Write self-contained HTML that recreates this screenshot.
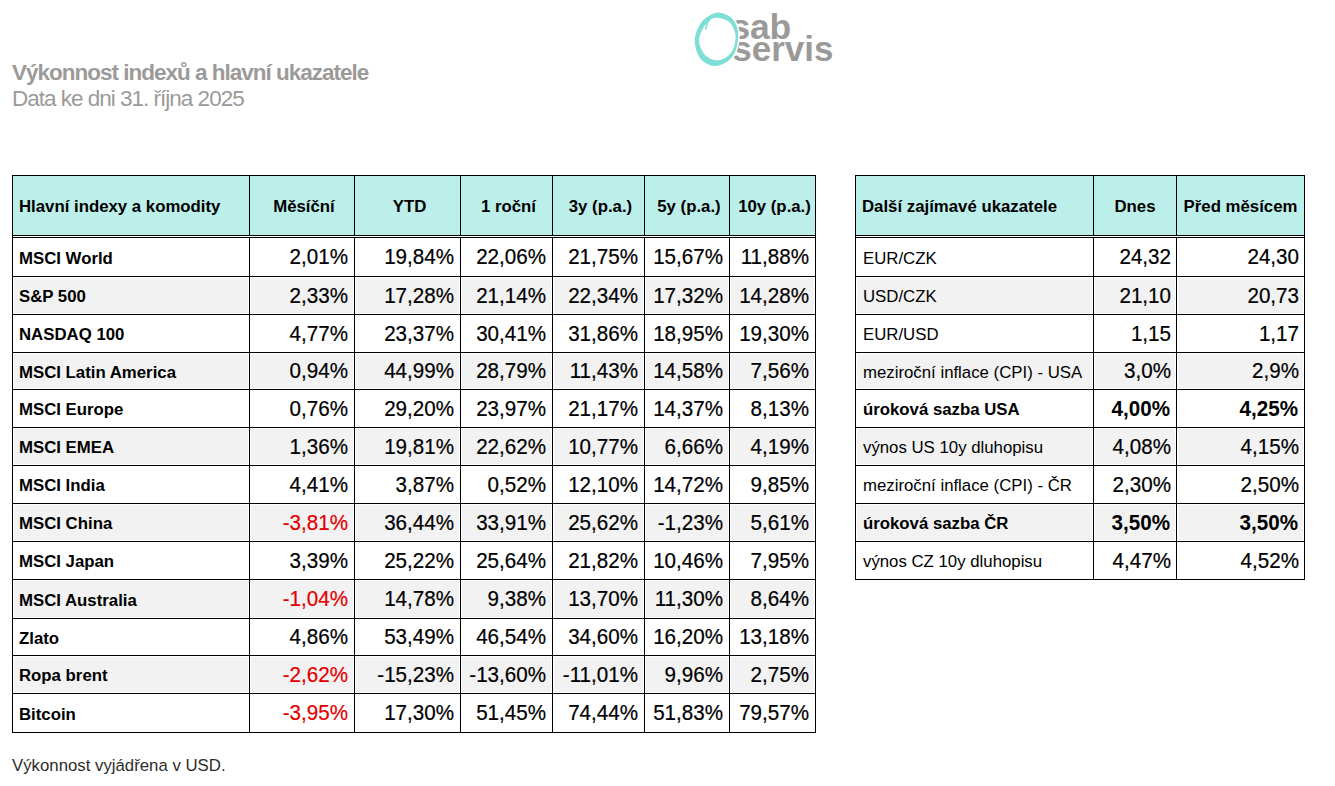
<!DOCTYPE html>
<html><head><meta charset="utf-8"><title>Výkonnost indexů</title>
<style>
html,body{margin:0;padding:0;background:#fff;}
body{width:1335px;height:786px;position:relative;overflow:hidden;font-family:"Liberation Sans",sans-serif;color:#000;}
body div{position:absolute;}
.t{white-space:nowrap;}
</style></head><body>
<div class="t" style="left:12px;top:57.70px;line-height:30px;font-size:22.5px;font-weight:bold;letter-spacing:-1px;color:#9c9a98;">Výkonnost indexů a hlavní ukazatele</div>
<div class="t" style="left:12px;top:84.20px;line-height:30px;font-size:22.5px;letter-spacing:-1px;color:#9c9a98;">Data ke dni 31. října 2025</div>
<svg style="position:absolute;left:680px;top:0px" width="170" height="80" viewBox="680 0 170 80">
<g font-family="Liberation Sans" font-weight="bold" font-size="36" fill="#9b9a98">
<text x="730.5" y="39" font-size="35.5" letter-spacing="-0.2">sab</text>
<text x="732.3" y="60.7" font-size="35" letter-spacing="0">servis</text>
</g>
<path d="M720.00 12.70 C723.42 13.10 728.17 15.12 731.00 17.50 C733.83 19.88 735.82 23.58 737.00 27.00 C738.18 30.42 738.43 33.80 738.10 38.00 C737.77 42.20 736.83 48.25 735.00 52.20 C733.17 56.15 730.65 59.40 727.10 61.70 C723.55 64.00 718.17 66.53 713.70 66.00 C709.23 65.47 703.47 62.65 700.30 58.50 C697.13 54.35 694.70 46.88 694.70 41.10 C694.70 35.32 697.67 28.13 700.30 23.80 C702.93 19.47 707.22 16.95 710.50 15.10 C713.78 13.25 716.58 12.30 720.00 12.70Z" fill="#fff" stroke="#fff" stroke-width="3.2"/>
<path d="M720.00 12.70 C723.42 13.10 728.17 15.12 731.00 17.50 C733.83 19.88 735.82 23.58 737.00 27.00 C738.18 30.42 738.43 33.80 738.10 38.00 C737.77 42.20 736.83 48.25 735.00 52.20 C733.17 56.15 730.65 59.40 727.10 61.70 C723.55 64.00 718.17 66.53 713.70 66.00 C709.23 65.47 703.47 62.65 700.30 58.50 C697.13 54.35 694.70 46.88 694.70 41.10 C694.70 35.32 697.67 28.13 700.30 23.80 C702.93 19.47 707.22 16.95 710.50 15.10 C713.78 13.25 716.58 12.30 720.00 12.70Z M711.30 19.00 C708.67 20.63 705.43 24.02 703.40 27.70 C701.37 31.38 698.83 36.55 699.10 41.10 C699.37 45.65 702.18 51.80 705.00 55.00 C707.82 58.20 712.50 59.88 716.00 60.30 C719.50 60.72 723.17 59.28 726.00 57.50 C728.83 55.72 731.40 52.85 733.00 49.60 C734.60 46.35 735.47 41.43 735.60 38.00 C735.73 34.57 734.95 31.77 733.80 29.00 C732.65 26.23 731.13 23.25 728.70 21.40 C726.27 19.55 722.10 18.30 719.20 17.90 C716.30 17.50 713.93 17.37 711.30 19.00Z" fill="#7edfd6" fill-rule="evenodd"/>
<path d="M709.5 19.5 L707.6 22.6 L705.6 29" fill="none" stroke="#7edfd6" stroke-width="1.6" stroke-linecap="round"/>
</svg>
<div style="left:12px;top:175px;width:804px;height:60px;background:#bdefea;"></div>
<div style="left:14px;top:278px;width:234px;height:35px;background:#f2f2f2;"></div>
<div style="left:251px;top:278px;width:102px;height:35px;background:#f2f2f2;"></div>
<div style="left:356px;top:278px;width:103px;height:35px;background:#f2f2f2;"></div>
<div style="left:462px;top:278px;width:89px;height:35px;background:#f2f2f2;"></div>
<div style="left:554px;top:278px;width:89px;height:35px;background:#f2f2f2;"></div>
<div style="left:646px;top:278px;width:82px;height:35px;background:#f2f2f2;"></div>
<div style="left:731px;top:278px;width:83px;height:35px;background:#f2f2f2;"></div>
<div style="left:14px;top:354px;width:234px;height:34px;background:#f2f2f2;"></div>
<div style="left:251px;top:354px;width:102px;height:34px;background:#f2f2f2;"></div>
<div style="left:356px;top:354px;width:103px;height:34px;background:#f2f2f2;"></div>
<div style="left:462px;top:354px;width:89px;height:34px;background:#f2f2f2;"></div>
<div style="left:554px;top:354px;width:89px;height:34px;background:#f2f2f2;"></div>
<div style="left:646px;top:354px;width:82px;height:34px;background:#f2f2f2;"></div>
<div style="left:731px;top:354px;width:83px;height:34px;background:#f2f2f2;"></div>
<div style="left:14px;top:429px;width:234px;height:35px;background:#f2f2f2;"></div>
<div style="left:251px;top:429px;width:102px;height:35px;background:#f2f2f2;"></div>
<div style="left:356px;top:429px;width:103px;height:35px;background:#f2f2f2;"></div>
<div style="left:462px;top:429px;width:89px;height:35px;background:#f2f2f2;"></div>
<div style="left:554px;top:429px;width:89px;height:35px;background:#f2f2f2;"></div>
<div style="left:646px;top:429px;width:82px;height:35px;background:#f2f2f2;"></div>
<div style="left:731px;top:429px;width:83px;height:35px;background:#f2f2f2;"></div>
<div style="left:14px;top:505px;width:234px;height:35px;background:#f2f2f2;"></div>
<div style="left:251px;top:505px;width:102px;height:35px;background:#f2f2f2;"></div>
<div style="left:356px;top:505px;width:103px;height:35px;background:#f2f2f2;"></div>
<div style="left:462px;top:505px;width:89px;height:35px;background:#f2f2f2;"></div>
<div style="left:554px;top:505px;width:89px;height:35px;background:#f2f2f2;"></div>
<div style="left:646px;top:505px;width:82px;height:35px;background:#f2f2f2;"></div>
<div style="left:731px;top:505px;width:83px;height:35px;background:#f2f2f2;"></div>
<div style="left:14px;top:581px;width:234px;height:36px;background:#f2f2f2;"></div>
<div style="left:251px;top:581px;width:102px;height:36px;background:#f2f2f2;"></div>
<div style="left:356px;top:581px;width:103px;height:36px;background:#f2f2f2;"></div>
<div style="left:462px;top:581px;width:89px;height:36px;background:#f2f2f2;"></div>
<div style="left:554px;top:581px;width:89px;height:36px;background:#f2f2f2;"></div>
<div style="left:646px;top:581px;width:82px;height:36px;background:#f2f2f2;"></div>
<div style="left:731px;top:581px;width:83px;height:36px;background:#f2f2f2;"></div>
<div style="left:14px;top:657px;width:234px;height:35px;background:#f2f2f2;"></div>
<div style="left:251px;top:657px;width:102px;height:35px;background:#f2f2f2;"></div>
<div style="left:356px;top:657px;width:103px;height:35px;background:#f2f2f2;"></div>
<div style="left:462px;top:657px;width:89px;height:35px;background:#f2f2f2;"></div>
<div style="left:554px;top:657px;width:89px;height:35px;background:#f2f2f2;"></div>
<div style="left:646px;top:657px;width:82px;height:35px;background:#f2f2f2;"></div>
<div style="left:731px;top:657px;width:83px;height:35px;background:#f2f2f2;"></div>
<div style="left:12px;top:175px;width:804px;height:1px;background:#000;"></div>
<div style="left:12px;top:235px;width:804px;height:1px;background:#000;"></div>
<div style="left:12px;top:237px;width:804px;height:1px;background:#000;"></div>
<div style="left:12px;top:276px;width:804px;height:1px;background:#000;"></div>
<div style="left:12px;top:314px;width:804px;height:1px;background:#000;"></div>
<div style="left:12px;top:352px;width:804px;height:1px;background:#000;"></div>
<div style="left:12px;top:389px;width:804px;height:1px;background:#000;"></div>
<div style="left:12px;top:427px;width:804px;height:1px;background:#000;"></div>
<div style="left:12px;top:465px;width:804px;height:1px;background:#000;"></div>
<div style="left:12px;top:503px;width:804px;height:1px;background:#000;"></div>
<div style="left:12px;top:541px;width:804px;height:1px;background:#000;"></div>
<div style="left:12px;top:579px;width:804px;height:1px;background:#000;"></div>
<div style="left:12px;top:618px;width:804px;height:1px;background:#000;"></div>
<div style="left:12px;top:655px;width:804px;height:1px;background:#000;"></div>
<div style="left:12px;top:693px;width:804px;height:1px;background:#000;"></div>
<div style="left:12px;top:732px;width:804px;height:1px;background:#000;"></div>
<div style="left:12px;top:175px;width:1px;height:558px;background:#000;"></div>
<div style="left:249px;top:175px;width:1px;height:61px;background:#000;"></div>
<div style="left:249px;top:237px;width:1px;height:496px;background:#000;"></div>
<div style="left:354px;top:175px;width:1px;height:61px;background:#000;"></div>
<div style="left:354px;top:237px;width:1px;height:496px;background:#000;"></div>
<div style="left:460px;top:175px;width:1px;height:61px;background:#000;"></div>
<div style="left:460px;top:237px;width:1px;height:496px;background:#000;"></div>
<div style="left:552px;top:175px;width:1px;height:61px;background:#000;"></div>
<div style="left:552px;top:237px;width:1px;height:496px;background:#000;"></div>
<div style="left:644px;top:175px;width:1px;height:61px;background:#000;"></div>
<div style="left:644px;top:237px;width:1px;height:496px;background:#000;"></div>
<div style="left:729px;top:175px;width:1px;height:61px;background:#000;"></div>
<div style="left:729px;top:237px;width:1px;height:496px;background:#000;"></div>
<div style="left:815px;top:175px;width:1px;height:558px;background:#000;"></div>
<div class="t" style="left:13px;width:236px;top:192.19px;line-height:30px;font-size:16.8px;text-align:left;padding-left:6px;box-sizing:border-box;font-weight:bold;">Hlavní indexy a komodity</div>
<div class="t" style="left:252px;width:104px;top:192.19px;line-height:30px;font-size:16.8px;text-align:center;font-weight:bold;">Měsíční</div>
<div class="t" style="left:357px;width:105px;top:192.19px;line-height:30px;font-size:16.8px;text-align:center;font-weight:bold;">YTD</div>
<div class="t" style="left:463px;width:91px;top:192.19px;line-height:30px;font-size:16.8px;text-align:center;font-weight:bold;">1 roční</div>
<div class="t" style="left:555px;width:91px;top:192.19px;line-height:30px;font-size:16.8px;text-align:center;font-weight:bold;">3y (p.a.)</div>
<div class="t" style="left:647px;width:84px;top:192.19px;line-height:30px;font-size:16.8px;text-align:center;font-weight:bold;">5y (p.a.)</div>
<div class="t" style="left:732px;width:85px;top:192.19px;line-height:30px;font-size:16.8px;text-align:center;font-weight:bold;">10y (p.a.)</div>
<div class="t" style="left:13px;width:236px;top:243.69px;line-height:30px;font-size:16.8px;text-align:left;padding-left:6px;box-sizing:border-box;font-weight:bold;">MSCI World</div>
<div class="t" style="left:250px;width:104px;top:242.44px;line-height:30px;font-size:20.6px;text-align:right;transform:scaleY(1.05);transform-origin:50% 22.14px;-webkit-text-stroke:0.2px currentColor;padding-right:6px;box-sizing:border-box;">2,01%</div>
<div class="t" style="left:355px;width:105px;top:242.44px;line-height:30px;font-size:20.6px;text-align:right;transform:scaleY(1.05);transform-origin:50% 22.14px;-webkit-text-stroke:0.2px currentColor;padding-right:6px;box-sizing:border-box;">19,84%</div>
<div class="t" style="left:461px;width:91px;top:242.44px;line-height:30px;font-size:20.6px;text-align:right;transform:scaleY(1.05);transform-origin:50% 22.14px;-webkit-text-stroke:0.2px currentColor;padding-right:6px;box-sizing:border-box;">22,06%</div>
<div class="t" style="left:553px;width:91px;top:242.44px;line-height:30px;font-size:20.6px;text-align:right;transform:scaleY(1.05);transform-origin:50% 22.14px;-webkit-text-stroke:0.2px currentColor;padding-right:6px;box-sizing:border-box;">21,75%</div>
<div class="t" style="left:645px;width:84px;top:242.44px;line-height:30px;font-size:20.6px;text-align:right;transform:scaleY(1.05);transform-origin:50% 22.14px;-webkit-text-stroke:0.2px currentColor;padding-right:6px;box-sizing:border-box;">15,67%</div>
<div class="t" style="left:730px;width:85px;top:242.44px;line-height:30px;font-size:20.6px;text-align:right;transform:scaleY(1.05);transform-origin:50% 22.14px;-webkit-text-stroke:0.2px currentColor;padding-right:6px;box-sizing:border-box;">11,88%</div>
<div class="t" style="left:13px;width:236px;top:282.19px;line-height:30px;font-size:16.8px;text-align:left;padding-left:6px;box-sizing:border-box;font-weight:bold;">S&amp;P 500</div>
<div class="t" style="left:250px;width:104px;top:280.94px;line-height:30px;font-size:20.6px;text-align:right;transform:scaleY(1.05);transform-origin:50% 22.14px;-webkit-text-stroke:0.2px currentColor;padding-right:6px;box-sizing:border-box;">2,33%</div>
<div class="t" style="left:355px;width:105px;top:280.94px;line-height:30px;font-size:20.6px;text-align:right;transform:scaleY(1.05);transform-origin:50% 22.14px;-webkit-text-stroke:0.2px currentColor;padding-right:6px;box-sizing:border-box;">17,28%</div>
<div class="t" style="left:461px;width:91px;top:280.94px;line-height:30px;font-size:20.6px;text-align:right;transform:scaleY(1.05);transform-origin:50% 22.14px;-webkit-text-stroke:0.2px currentColor;padding-right:6px;box-sizing:border-box;">21,14%</div>
<div class="t" style="left:553px;width:91px;top:280.94px;line-height:30px;font-size:20.6px;text-align:right;transform:scaleY(1.05);transform-origin:50% 22.14px;-webkit-text-stroke:0.2px currentColor;padding-right:6px;box-sizing:border-box;">22,34%</div>
<div class="t" style="left:645px;width:84px;top:280.94px;line-height:30px;font-size:20.6px;text-align:right;transform:scaleY(1.05);transform-origin:50% 22.14px;-webkit-text-stroke:0.2px currentColor;padding-right:6px;box-sizing:border-box;">17,32%</div>
<div class="t" style="left:730px;width:85px;top:280.94px;line-height:30px;font-size:20.6px;text-align:right;transform:scaleY(1.05);transform-origin:50% 22.14px;-webkit-text-stroke:0.2px currentColor;padding-right:6px;box-sizing:border-box;">14,28%</div>
<div class="t" style="left:13px;width:236px;top:320.19px;line-height:30px;font-size:16.8px;text-align:left;padding-left:6px;box-sizing:border-box;font-weight:bold;">NASDAQ 100</div>
<div class="t" style="left:250px;width:104px;top:318.94px;line-height:30px;font-size:20.6px;text-align:right;transform:scaleY(1.05);transform-origin:50% 22.14px;-webkit-text-stroke:0.2px currentColor;padding-right:6px;box-sizing:border-box;">4,77%</div>
<div class="t" style="left:355px;width:105px;top:318.94px;line-height:30px;font-size:20.6px;text-align:right;transform:scaleY(1.05);transform-origin:50% 22.14px;-webkit-text-stroke:0.2px currentColor;padding-right:6px;box-sizing:border-box;">23,37%</div>
<div class="t" style="left:461px;width:91px;top:318.94px;line-height:30px;font-size:20.6px;text-align:right;transform:scaleY(1.05);transform-origin:50% 22.14px;-webkit-text-stroke:0.2px currentColor;padding-right:6px;box-sizing:border-box;">30,41%</div>
<div class="t" style="left:553px;width:91px;top:318.94px;line-height:30px;font-size:20.6px;text-align:right;transform:scaleY(1.05);transform-origin:50% 22.14px;-webkit-text-stroke:0.2px currentColor;padding-right:6px;box-sizing:border-box;">31,86%</div>
<div class="t" style="left:645px;width:84px;top:318.94px;line-height:30px;font-size:20.6px;text-align:right;transform:scaleY(1.05);transform-origin:50% 22.14px;-webkit-text-stroke:0.2px currentColor;padding-right:6px;box-sizing:border-box;">18,95%</div>
<div class="t" style="left:730px;width:85px;top:318.94px;line-height:30px;font-size:20.6px;text-align:right;transform:scaleY(1.05);transform-origin:50% 22.14px;-webkit-text-stroke:0.2px currentColor;padding-right:6px;box-sizing:border-box;">19,30%</div>
<div class="t" style="left:13px;width:236px;top:357.69px;line-height:30px;font-size:16.8px;text-align:left;padding-left:6px;box-sizing:border-box;font-weight:bold;">MSCI Latin America</div>
<div class="t" style="left:250px;width:104px;top:356.44px;line-height:30px;font-size:20.6px;text-align:right;transform:scaleY(1.05);transform-origin:50% 22.14px;-webkit-text-stroke:0.2px currentColor;padding-right:6px;box-sizing:border-box;">0,94%</div>
<div class="t" style="left:355px;width:105px;top:356.44px;line-height:30px;font-size:20.6px;text-align:right;transform:scaleY(1.05);transform-origin:50% 22.14px;-webkit-text-stroke:0.2px currentColor;padding-right:6px;box-sizing:border-box;">44,99%</div>
<div class="t" style="left:461px;width:91px;top:356.44px;line-height:30px;font-size:20.6px;text-align:right;transform:scaleY(1.05);transform-origin:50% 22.14px;-webkit-text-stroke:0.2px currentColor;padding-right:6px;box-sizing:border-box;">28,79%</div>
<div class="t" style="left:553px;width:91px;top:356.44px;line-height:30px;font-size:20.6px;text-align:right;transform:scaleY(1.05);transform-origin:50% 22.14px;-webkit-text-stroke:0.2px currentColor;padding-right:6px;box-sizing:border-box;">11,43%</div>
<div class="t" style="left:645px;width:84px;top:356.44px;line-height:30px;font-size:20.6px;text-align:right;transform:scaleY(1.05);transform-origin:50% 22.14px;-webkit-text-stroke:0.2px currentColor;padding-right:6px;box-sizing:border-box;">14,58%</div>
<div class="t" style="left:730px;width:85px;top:356.44px;line-height:30px;font-size:20.6px;text-align:right;transform:scaleY(1.05);transform-origin:50% 22.14px;-webkit-text-stroke:0.2px currentColor;padding-right:6px;box-sizing:border-box;">7,56%</div>
<div class="t" style="left:13px;width:236px;top:395.19px;line-height:30px;font-size:16.8px;text-align:left;padding-left:6px;box-sizing:border-box;font-weight:bold;">MSCI Europe</div>
<div class="t" style="left:250px;width:104px;top:393.94px;line-height:30px;font-size:20.6px;text-align:right;transform:scaleY(1.05);transform-origin:50% 22.14px;-webkit-text-stroke:0.2px currentColor;padding-right:6px;box-sizing:border-box;">0,76%</div>
<div class="t" style="left:355px;width:105px;top:393.94px;line-height:30px;font-size:20.6px;text-align:right;transform:scaleY(1.05);transform-origin:50% 22.14px;-webkit-text-stroke:0.2px currentColor;padding-right:6px;box-sizing:border-box;">29,20%</div>
<div class="t" style="left:461px;width:91px;top:393.94px;line-height:30px;font-size:20.6px;text-align:right;transform:scaleY(1.05);transform-origin:50% 22.14px;-webkit-text-stroke:0.2px currentColor;padding-right:6px;box-sizing:border-box;">23,97%</div>
<div class="t" style="left:553px;width:91px;top:393.94px;line-height:30px;font-size:20.6px;text-align:right;transform:scaleY(1.05);transform-origin:50% 22.14px;-webkit-text-stroke:0.2px currentColor;padding-right:6px;box-sizing:border-box;">21,17%</div>
<div class="t" style="left:645px;width:84px;top:393.94px;line-height:30px;font-size:20.6px;text-align:right;transform:scaleY(1.05);transform-origin:50% 22.14px;-webkit-text-stroke:0.2px currentColor;padding-right:6px;box-sizing:border-box;">14,37%</div>
<div class="t" style="left:730px;width:85px;top:393.94px;line-height:30px;font-size:20.6px;text-align:right;transform:scaleY(1.05);transform-origin:50% 22.14px;-webkit-text-stroke:0.2px currentColor;padding-right:6px;box-sizing:border-box;">8,13%</div>
<div class="t" style="left:13px;width:236px;top:433.19px;line-height:30px;font-size:16.8px;text-align:left;padding-left:6px;box-sizing:border-box;font-weight:bold;">MSCI EMEA</div>
<div class="t" style="left:250px;width:104px;top:431.94px;line-height:30px;font-size:20.6px;text-align:right;transform:scaleY(1.05);transform-origin:50% 22.14px;-webkit-text-stroke:0.2px currentColor;padding-right:6px;box-sizing:border-box;">1,36%</div>
<div class="t" style="left:355px;width:105px;top:431.94px;line-height:30px;font-size:20.6px;text-align:right;transform:scaleY(1.05);transform-origin:50% 22.14px;-webkit-text-stroke:0.2px currentColor;padding-right:6px;box-sizing:border-box;">19,81%</div>
<div class="t" style="left:461px;width:91px;top:431.94px;line-height:30px;font-size:20.6px;text-align:right;transform:scaleY(1.05);transform-origin:50% 22.14px;-webkit-text-stroke:0.2px currentColor;padding-right:6px;box-sizing:border-box;">22,62%</div>
<div class="t" style="left:553px;width:91px;top:431.94px;line-height:30px;font-size:20.6px;text-align:right;transform:scaleY(1.05);transform-origin:50% 22.14px;-webkit-text-stroke:0.2px currentColor;padding-right:6px;box-sizing:border-box;">10,77%</div>
<div class="t" style="left:645px;width:84px;top:431.94px;line-height:30px;font-size:20.6px;text-align:right;transform:scaleY(1.05);transform-origin:50% 22.14px;-webkit-text-stroke:0.2px currentColor;padding-right:6px;box-sizing:border-box;">6,66%</div>
<div class="t" style="left:730px;width:85px;top:431.94px;line-height:30px;font-size:20.6px;text-align:right;transform:scaleY(1.05);transform-origin:50% 22.14px;-webkit-text-stroke:0.2px currentColor;padding-right:6px;box-sizing:border-box;">4,19%</div>
<div class="t" style="left:13px;width:236px;top:471.19px;line-height:30px;font-size:16.8px;text-align:left;padding-left:6px;box-sizing:border-box;font-weight:bold;">MSCI India</div>
<div class="t" style="left:250px;width:104px;top:469.94px;line-height:30px;font-size:20.6px;text-align:right;transform:scaleY(1.05);transform-origin:50% 22.14px;-webkit-text-stroke:0.2px currentColor;padding-right:6px;box-sizing:border-box;">4,41%</div>
<div class="t" style="left:355px;width:105px;top:469.94px;line-height:30px;font-size:20.6px;text-align:right;transform:scaleY(1.05);transform-origin:50% 22.14px;-webkit-text-stroke:0.2px currentColor;padding-right:6px;box-sizing:border-box;">3,87%</div>
<div class="t" style="left:461px;width:91px;top:469.94px;line-height:30px;font-size:20.6px;text-align:right;transform:scaleY(1.05);transform-origin:50% 22.14px;-webkit-text-stroke:0.2px currentColor;padding-right:6px;box-sizing:border-box;">0,52%</div>
<div class="t" style="left:553px;width:91px;top:469.94px;line-height:30px;font-size:20.6px;text-align:right;transform:scaleY(1.05);transform-origin:50% 22.14px;-webkit-text-stroke:0.2px currentColor;padding-right:6px;box-sizing:border-box;">12,10%</div>
<div class="t" style="left:645px;width:84px;top:469.94px;line-height:30px;font-size:20.6px;text-align:right;transform:scaleY(1.05);transform-origin:50% 22.14px;-webkit-text-stroke:0.2px currentColor;padding-right:6px;box-sizing:border-box;">14,72%</div>
<div class="t" style="left:730px;width:85px;top:469.94px;line-height:30px;font-size:20.6px;text-align:right;transform:scaleY(1.05);transform-origin:50% 22.14px;-webkit-text-stroke:0.2px currentColor;padding-right:6px;box-sizing:border-box;">9,85%</div>
<div class="t" style="left:13px;width:236px;top:509.19px;line-height:30px;font-size:16.8px;text-align:left;padding-left:6px;box-sizing:border-box;font-weight:bold;">MSCI China</div>
<div class="t" style="left:250px;width:104px;top:507.94px;line-height:30px;font-size:20.6px;text-align:right;transform:scaleY(1.05);transform-origin:50% 22.14px;-webkit-text-stroke:0.2px currentColor;padding-right:6px;box-sizing:border-box;color:#e50000;">-3,81%</div>
<div class="t" style="left:355px;width:105px;top:507.94px;line-height:30px;font-size:20.6px;text-align:right;transform:scaleY(1.05);transform-origin:50% 22.14px;-webkit-text-stroke:0.2px currentColor;padding-right:6px;box-sizing:border-box;">36,44%</div>
<div class="t" style="left:461px;width:91px;top:507.94px;line-height:30px;font-size:20.6px;text-align:right;transform:scaleY(1.05);transform-origin:50% 22.14px;-webkit-text-stroke:0.2px currentColor;padding-right:6px;box-sizing:border-box;">33,91%</div>
<div class="t" style="left:553px;width:91px;top:507.94px;line-height:30px;font-size:20.6px;text-align:right;transform:scaleY(1.05);transform-origin:50% 22.14px;-webkit-text-stroke:0.2px currentColor;padding-right:6px;box-sizing:border-box;">25,62%</div>
<div class="t" style="left:645px;width:84px;top:507.94px;line-height:30px;font-size:20.6px;text-align:right;transform:scaleY(1.05);transform-origin:50% 22.14px;-webkit-text-stroke:0.2px currentColor;padding-right:6px;box-sizing:border-box;">-1,23%</div>
<div class="t" style="left:730px;width:85px;top:507.94px;line-height:30px;font-size:20.6px;text-align:right;transform:scaleY(1.05);transform-origin:50% 22.14px;-webkit-text-stroke:0.2px currentColor;padding-right:6px;box-sizing:border-box;">5,61%</div>
<div class="t" style="left:13px;width:236px;top:547.19px;line-height:30px;font-size:16.8px;text-align:left;padding-left:6px;box-sizing:border-box;font-weight:bold;">MSCI Japan</div>
<div class="t" style="left:250px;width:104px;top:545.94px;line-height:30px;font-size:20.6px;text-align:right;transform:scaleY(1.05);transform-origin:50% 22.14px;-webkit-text-stroke:0.2px currentColor;padding-right:6px;box-sizing:border-box;">3,39%</div>
<div class="t" style="left:355px;width:105px;top:545.94px;line-height:30px;font-size:20.6px;text-align:right;transform:scaleY(1.05);transform-origin:50% 22.14px;-webkit-text-stroke:0.2px currentColor;padding-right:6px;box-sizing:border-box;">25,22%</div>
<div class="t" style="left:461px;width:91px;top:545.94px;line-height:30px;font-size:20.6px;text-align:right;transform:scaleY(1.05);transform-origin:50% 22.14px;-webkit-text-stroke:0.2px currentColor;padding-right:6px;box-sizing:border-box;">25,64%</div>
<div class="t" style="left:553px;width:91px;top:545.94px;line-height:30px;font-size:20.6px;text-align:right;transform:scaleY(1.05);transform-origin:50% 22.14px;-webkit-text-stroke:0.2px currentColor;padding-right:6px;box-sizing:border-box;">21,82%</div>
<div class="t" style="left:645px;width:84px;top:545.94px;line-height:30px;font-size:20.6px;text-align:right;transform:scaleY(1.05);transform-origin:50% 22.14px;-webkit-text-stroke:0.2px currentColor;padding-right:6px;box-sizing:border-box;">10,46%</div>
<div class="t" style="left:730px;width:85px;top:545.94px;line-height:30px;font-size:20.6px;text-align:right;transform:scaleY(1.05);transform-origin:50% 22.14px;-webkit-text-stroke:0.2px currentColor;padding-right:6px;box-sizing:border-box;">7,95%</div>
<div class="t" style="left:13px;width:236px;top:585.69px;line-height:30px;font-size:16.8px;text-align:left;padding-left:6px;box-sizing:border-box;font-weight:bold;">MSCI Australia</div>
<div class="t" style="left:250px;width:104px;top:584.44px;line-height:30px;font-size:20.6px;text-align:right;transform:scaleY(1.05);transform-origin:50% 22.14px;-webkit-text-stroke:0.2px currentColor;padding-right:6px;box-sizing:border-box;color:#e50000;">-1,04%</div>
<div class="t" style="left:355px;width:105px;top:584.44px;line-height:30px;font-size:20.6px;text-align:right;transform:scaleY(1.05);transform-origin:50% 22.14px;-webkit-text-stroke:0.2px currentColor;padding-right:6px;box-sizing:border-box;">14,78%</div>
<div class="t" style="left:461px;width:91px;top:584.44px;line-height:30px;font-size:20.6px;text-align:right;transform:scaleY(1.05);transform-origin:50% 22.14px;-webkit-text-stroke:0.2px currentColor;padding-right:6px;box-sizing:border-box;">9,38%</div>
<div class="t" style="left:553px;width:91px;top:584.44px;line-height:30px;font-size:20.6px;text-align:right;transform:scaleY(1.05);transform-origin:50% 22.14px;-webkit-text-stroke:0.2px currentColor;padding-right:6px;box-sizing:border-box;">13,70%</div>
<div class="t" style="left:645px;width:84px;top:584.44px;line-height:30px;font-size:20.6px;text-align:right;transform:scaleY(1.05);transform-origin:50% 22.14px;-webkit-text-stroke:0.2px currentColor;padding-right:6px;box-sizing:border-box;">11,30%</div>
<div class="t" style="left:730px;width:85px;top:584.44px;line-height:30px;font-size:20.6px;text-align:right;transform:scaleY(1.05);transform-origin:50% 22.14px;-webkit-text-stroke:0.2px currentColor;padding-right:6px;box-sizing:border-box;">8,64%</div>
<div class="t" style="left:13px;width:236px;top:623.69px;line-height:30px;font-size:16.8px;text-align:left;padding-left:6px;box-sizing:border-box;font-weight:bold;">Zlato</div>
<div class="t" style="left:250px;width:104px;top:622.44px;line-height:30px;font-size:20.6px;text-align:right;transform:scaleY(1.05);transform-origin:50% 22.14px;-webkit-text-stroke:0.2px currentColor;padding-right:6px;box-sizing:border-box;">4,86%</div>
<div class="t" style="left:355px;width:105px;top:622.44px;line-height:30px;font-size:20.6px;text-align:right;transform:scaleY(1.05);transform-origin:50% 22.14px;-webkit-text-stroke:0.2px currentColor;padding-right:6px;box-sizing:border-box;">53,49%</div>
<div class="t" style="left:461px;width:91px;top:622.44px;line-height:30px;font-size:20.6px;text-align:right;transform:scaleY(1.05);transform-origin:50% 22.14px;-webkit-text-stroke:0.2px currentColor;padding-right:6px;box-sizing:border-box;">46,54%</div>
<div class="t" style="left:553px;width:91px;top:622.44px;line-height:30px;font-size:20.6px;text-align:right;transform:scaleY(1.05);transform-origin:50% 22.14px;-webkit-text-stroke:0.2px currentColor;padding-right:6px;box-sizing:border-box;">34,60%</div>
<div class="t" style="left:645px;width:84px;top:622.44px;line-height:30px;font-size:20.6px;text-align:right;transform:scaleY(1.05);transform-origin:50% 22.14px;-webkit-text-stroke:0.2px currentColor;padding-right:6px;box-sizing:border-box;">16,20%</div>
<div class="t" style="left:730px;width:85px;top:622.44px;line-height:30px;font-size:20.6px;text-align:right;transform:scaleY(1.05);transform-origin:50% 22.14px;-webkit-text-stroke:0.2px currentColor;padding-right:6px;box-sizing:border-box;">13,18%</div>
<div class="t" style="left:13px;width:236px;top:661.19px;line-height:30px;font-size:16.8px;text-align:left;padding-left:6px;box-sizing:border-box;font-weight:bold;">Ropa brent</div>
<div class="t" style="left:250px;width:104px;top:659.94px;line-height:30px;font-size:20.6px;text-align:right;transform:scaleY(1.05);transform-origin:50% 22.14px;-webkit-text-stroke:0.2px currentColor;padding-right:6px;box-sizing:border-box;color:#e50000;">-2,62%</div>
<div class="t" style="left:355px;width:105px;top:659.94px;line-height:30px;font-size:20.6px;text-align:right;transform:scaleY(1.05);transform-origin:50% 22.14px;-webkit-text-stroke:0.2px currentColor;padding-right:6px;box-sizing:border-box;">-15,23%</div>
<div class="t" style="left:461px;width:91px;top:659.94px;line-height:30px;font-size:20.6px;text-align:right;transform:scaleY(1.05);transform-origin:50% 22.14px;-webkit-text-stroke:0.2px currentColor;padding-right:6px;box-sizing:border-box;">-13,60%</div>
<div class="t" style="left:553px;width:91px;top:659.94px;line-height:30px;font-size:20.6px;text-align:right;transform:scaleY(1.05);transform-origin:50% 22.14px;-webkit-text-stroke:0.2px currentColor;padding-right:6px;box-sizing:border-box;">-11,01%</div>
<div class="t" style="left:645px;width:84px;top:659.94px;line-height:30px;font-size:20.6px;text-align:right;transform:scaleY(1.05);transform-origin:50% 22.14px;-webkit-text-stroke:0.2px currentColor;padding-right:6px;box-sizing:border-box;">9,96%</div>
<div class="t" style="left:730px;width:85px;top:659.94px;line-height:30px;font-size:20.6px;text-align:right;transform:scaleY(1.05);transform-origin:50% 22.14px;-webkit-text-stroke:0.2px currentColor;padding-right:6px;box-sizing:border-box;">2,75%</div>
<div class="t" style="left:13px;width:236px;top:699.69px;line-height:30px;font-size:16.8px;text-align:left;padding-left:6px;box-sizing:border-box;font-weight:bold;">Bitcoin</div>
<div class="t" style="left:250px;width:104px;top:698.44px;line-height:30px;font-size:20.6px;text-align:right;transform:scaleY(1.05);transform-origin:50% 22.14px;-webkit-text-stroke:0.2px currentColor;padding-right:6px;box-sizing:border-box;color:#e50000;">-3,95%</div>
<div class="t" style="left:355px;width:105px;top:698.44px;line-height:30px;font-size:20.6px;text-align:right;transform:scaleY(1.05);transform-origin:50% 22.14px;-webkit-text-stroke:0.2px currentColor;padding-right:6px;box-sizing:border-box;">17,30%</div>
<div class="t" style="left:461px;width:91px;top:698.44px;line-height:30px;font-size:20.6px;text-align:right;transform:scaleY(1.05);transform-origin:50% 22.14px;-webkit-text-stroke:0.2px currentColor;padding-right:6px;box-sizing:border-box;">51,45%</div>
<div class="t" style="left:553px;width:91px;top:698.44px;line-height:30px;font-size:20.6px;text-align:right;transform:scaleY(1.05);transform-origin:50% 22.14px;-webkit-text-stroke:0.2px currentColor;padding-right:6px;box-sizing:border-box;">74,44%</div>
<div class="t" style="left:645px;width:84px;top:698.44px;line-height:30px;font-size:20.6px;text-align:right;transform:scaleY(1.05);transform-origin:50% 22.14px;-webkit-text-stroke:0.2px currentColor;padding-right:6px;box-sizing:border-box;">51,83%</div>
<div class="t" style="left:730px;width:85px;top:698.44px;line-height:30px;font-size:20.6px;text-align:right;transform:scaleY(1.05);transform-origin:50% 22.14px;-webkit-text-stroke:0.2px currentColor;padding-right:6px;box-sizing:border-box;">79,57%</div>
<div style="left:855px;top:175px;width:450px;height:60px;background:#bdefea;"></div>
<div style="left:857px;top:278px;width:235px;height:35px;background:#f2f2f2;"></div>
<div style="left:1095px;top:278px;width:80px;height:35px;background:#f2f2f2;"></div>
<div style="left:1178px;top:278px;width:125px;height:35px;background:#f2f2f2;"></div>
<div style="left:857px;top:354px;width:235px;height:34px;background:#f2f2f2;"></div>
<div style="left:1095px;top:354px;width:80px;height:34px;background:#f2f2f2;"></div>
<div style="left:1178px;top:354px;width:125px;height:34px;background:#f2f2f2;"></div>
<div style="left:857px;top:429px;width:235px;height:35px;background:#f2f2f2;"></div>
<div style="left:1095px;top:429px;width:80px;height:35px;background:#f2f2f2;"></div>
<div style="left:1178px;top:429px;width:125px;height:35px;background:#f2f2f2;"></div>
<div style="left:857px;top:505px;width:235px;height:35px;background:#f2f2f2;"></div>
<div style="left:1095px;top:505px;width:80px;height:35px;background:#f2f2f2;"></div>
<div style="left:1178px;top:505px;width:125px;height:35px;background:#f2f2f2;"></div>
<div style="left:855px;top:175px;width:450px;height:1px;background:#000;"></div>
<div style="left:855px;top:235px;width:450px;height:1px;background:#000;"></div>
<div style="left:855px;top:237px;width:450px;height:1px;background:#000;"></div>
<div style="left:855px;top:276px;width:450px;height:1px;background:#000;"></div>
<div style="left:855px;top:314px;width:450px;height:1px;background:#000;"></div>
<div style="left:855px;top:352px;width:450px;height:1px;background:#000;"></div>
<div style="left:855px;top:389px;width:450px;height:1px;background:#000;"></div>
<div style="left:855px;top:427px;width:450px;height:1px;background:#000;"></div>
<div style="left:855px;top:465px;width:450px;height:1px;background:#000;"></div>
<div style="left:855px;top:503px;width:450px;height:1px;background:#000;"></div>
<div style="left:855px;top:541px;width:450px;height:1px;background:#000;"></div>
<div style="left:855px;top:579px;width:450px;height:1px;background:#000;"></div>
<div style="left:855px;top:175px;width:1px;height:405px;background:#000;"></div>
<div style="left:1093px;top:175px;width:1px;height:61px;background:#000;"></div>
<div style="left:1093px;top:237px;width:1px;height:343px;background:#000;"></div>
<div style="left:1176px;top:175px;width:1px;height:61px;background:#000;"></div>
<div style="left:1176px;top:237px;width:1px;height:343px;background:#000;"></div>
<div style="left:1304px;top:175px;width:1px;height:405px;background:#000;"></div>
<div class="t" style="left:856px;width:237px;top:192.19px;line-height:30px;font-size:16.8px;text-align:left;padding-left:6px;box-sizing:border-box;font-weight:bold;">Další zajímavé ukazatele</div>
<div class="t" style="left:1094px;width:82px;top:192.19px;line-height:30px;font-size:16.8px;text-align:center;font-weight:bold;">Dnes</div>
<div class="t" style="left:1177px;width:127px;top:192.19px;line-height:30px;font-size:16.8px;text-align:center;font-weight:bold;">Před měsícem</div>
<div class="t" style="left:856px;width:237px;top:243.69px;line-height:30px;font-size:16.8px;text-align:left;padding-left:7px;box-sizing:border-box;">EUR/CZK</div>
<div class="t" style="left:1094px;width:82px;top:242.44px;line-height:30px;font-size:20.6px;text-align:right;transform:scaleY(1.05);transform-origin:50% 22.14px;-webkit-text-stroke:0.2px currentColor;padding-right:5px;box-sizing:border-box;">24,32</div>
<div class="t" style="left:1177px;width:127px;top:242.44px;line-height:30px;font-size:20.6px;text-align:right;transform:scaleY(1.05);transform-origin:50% 22.14px;-webkit-text-stroke:0.2px currentColor;padding-right:5px;box-sizing:border-box;">24,30</div>
<div class="t" style="left:856px;width:237px;top:282.19px;line-height:30px;font-size:16.8px;text-align:left;padding-left:7px;box-sizing:border-box;">USD/CZK</div>
<div class="t" style="left:1094px;width:82px;top:280.94px;line-height:30px;font-size:20.6px;text-align:right;transform:scaleY(1.05);transform-origin:50% 22.14px;-webkit-text-stroke:0.2px currentColor;padding-right:5px;box-sizing:border-box;">21,10</div>
<div class="t" style="left:1177px;width:127px;top:280.94px;line-height:30px;font-size:20.6px;text-align:right;transform:scaleY(1.05);transform-origin:50% 22.14px;-webkit-text-stroke:0.2px currentColor;padding-right:5px;box-sizing:border-box;">20,73</div>
<div class="t" style="left:856px;width:237px;top:320.19px;line-height:30px;font-size:16.8px;text-align:left;padding-left:7px;box-sizing:border-box;">EUR/USD</div>
<div class="t" style="left:1094px;width:82px;top:318.94px;line-height:30px;font-size:20.6px;text-align:right;transform:scaleY(1.05);transform-origin:50% 22.14px;-webkit-text-stroke:0.2px currentColor;padding-right:5px;box-sizing:border-box;">1,15</div>
<div class="t" style="left:1177px;width:127px;top:318.94px;line-height:30px;font-size:20.6px;text-align:right;transform:scaleY(1.05);transform-origin:50% 22.14px;-webkit-text-stroke:0.2px currentColor;padding-right:5px;box-sizing:border-box;">1,17</div>
<div class="t" style="left:856px;width:237px;top:357.69px;line-height:30px;font-size:16.8px;text-align:left;padding-left:7px;box-sizing:border-box;">meziroční inflace (CPI) - USA</div>
<div class="t" style="left:1094px;width:82px;top:356.44px;line-height:30px;font-size:20.6px;text-align:right;transform:scaleY(1.05);transform-origin:50% 22.14px;-webkit-text-stroke:0.2px currentColor;padding-right:5px;box-sizing:border-box;">3,0%</div>
<div class="t" style="left:1177px;width:127px;top:356.44px;line-height:30px;font-size:20.6px;text-align:right;transform:scaleY(1.05);transform-origin:50% 22.14px;-webkit-text-stroke:0.2px currentColor;padding-right:5px;box-sizing:border-box;">2,9%</div>
<div class="t" style="left:856px;width:237px;top:395.19px;line-height:30px;font-size:16.8px;text-align:left;padding-left:7px;box-sizing:border-box;font-weight:bold;">úroková sazba USA</div>
<div class="t" style="left:1094px;width:82px;top:393.94px;line-height:30px;font-size:20.6px;text-align:right;transform:scaleY(1.05);transform-origin:50% 22.14px;padding-right:6px;box-sizing:border-box;font-weight:bold;">4,00%</div>
<div class="t" style="left:1177px;width:127px;top:393.94px;line-height:30px;font-size:20.6px;text-align:right;transform:scaleY(1.05);transform-origin:50% 22.14px;padding-right:6px;box-sizing:border-box;font-weight:bold;">4,25%</div>
<div class="t" style="left:856px;width:237px;top:433.19px;line-height:30px;font-size:16.8px;text-align:left;padding-left:7px;box-sizing:border-box;">výnos US 10y dluhopisu</div>
<div class="t" style="left:1094px;width:82px;top:431.94px;line-height:30px;font-size:20.6px;text-align:right;transform:scaleY(1.05);transform-origin:50% 22.14px;-webkit-text-stroke:0.2px currentColor;padding-right:5px;box-sizing:border-box;">4,08%</div>
<div class="t" style="left:1177px;width:127px;top:431.94px;line-height:30px;font-size:20.6px;text-align:right;transform:scaleY(1.05);transform-origin:50% 22.14px;-webkit-text-stroke:0.2px currentColor;padding-right:5px;box-sizing:border-box;">4,15%</div>
<div class="t" style="left:856px;width:237px;top:471.19px;line-height:30px;font-size:16.8px;text-align:left;padding-left:7px;box-sizing:border-box;">meziroční inflace (CPI) - ČR</div>
<div class="t" style="left:1094px;width:82px;top:469.94px;line-height:30px;font-size:20.6px;text-align:right;transform:scaleY(1.05);transform-origin:50% 22.14px;-webkit-text-stroke:0.2px currentColor;padding-right:5px;box-sizing:border-box;">2,30%</div>
<div class="t" style="left:1177px;width:127px;top:469.94px;line-height:30px;font-size:20.6px;text-align:right;transform:scaleY(1.05);transform-origin:50% 22.14px;-webkit-text-stroke:0.2px currentColor;padding-right:5px;box-sizing:border-box;">2,50%</div>
<div class="t" style="left:856px;width:237px;top:509.19px;line-height:30px;font-size:16.8px;text-align:left;padding-left:7px;box-sizing:border-box;font-weight:bold;">úroková sazba ČR</div>
<div class="t" style="left:1094px;width:82px;top:507.94px;line-height:30px;font-size:20.6px;text-align:right;transform:scaleY(1.05);transform-origin:50% 22.14px;padding-right:6px;box-sizing:border-box;font-weight:bold;">3,50%</div>
<div class="t" style="left:1177px;width:127px;top:507.94px;line-height:30px;font-size:20.6px;text-align:right;transform:scaleY(1.05);transform-origin:50% 22.14px;padding-right:6px;box-sizing:border-box;font-weight:bold;">3,50%</div>
<div class="t" style="left:856px;width:237px;top:547.19px;line-height:30px;font-size:16.8px;text-align:left;padding-left:7px;box-sizing:border-box;">výnos CZ 10y dluhopisu</div>
<div class="t" style="left:1094px;width:82px;top:545.94px;line-height:30px;font-size:20.6px;text-align:right;transform:scaleY(1.05);transform-origin:50% 22.14px;-webkit-text-stroke:0.2px currentColor;padding-right:5px;box-sizing:border-box;">4,47%</div>
<div class="t" style="left:1177px;width:127px;top:545.94px;line-height:30px;font-size:20.6px;text-align:right;transform:scaleY(1.05);transform-origin:50% 22.14px;-webkit-text-stroke:0.2px currentColor;padding-right:5px;box-sizing:border-box;">4,52%</div>
<div class="t" style="left:12px;top:751.18px;line-height:30px;font-size:16.8px;color:#2f2c29;">Výkonnost vyjádřena v USD.</div>
</body></html>
